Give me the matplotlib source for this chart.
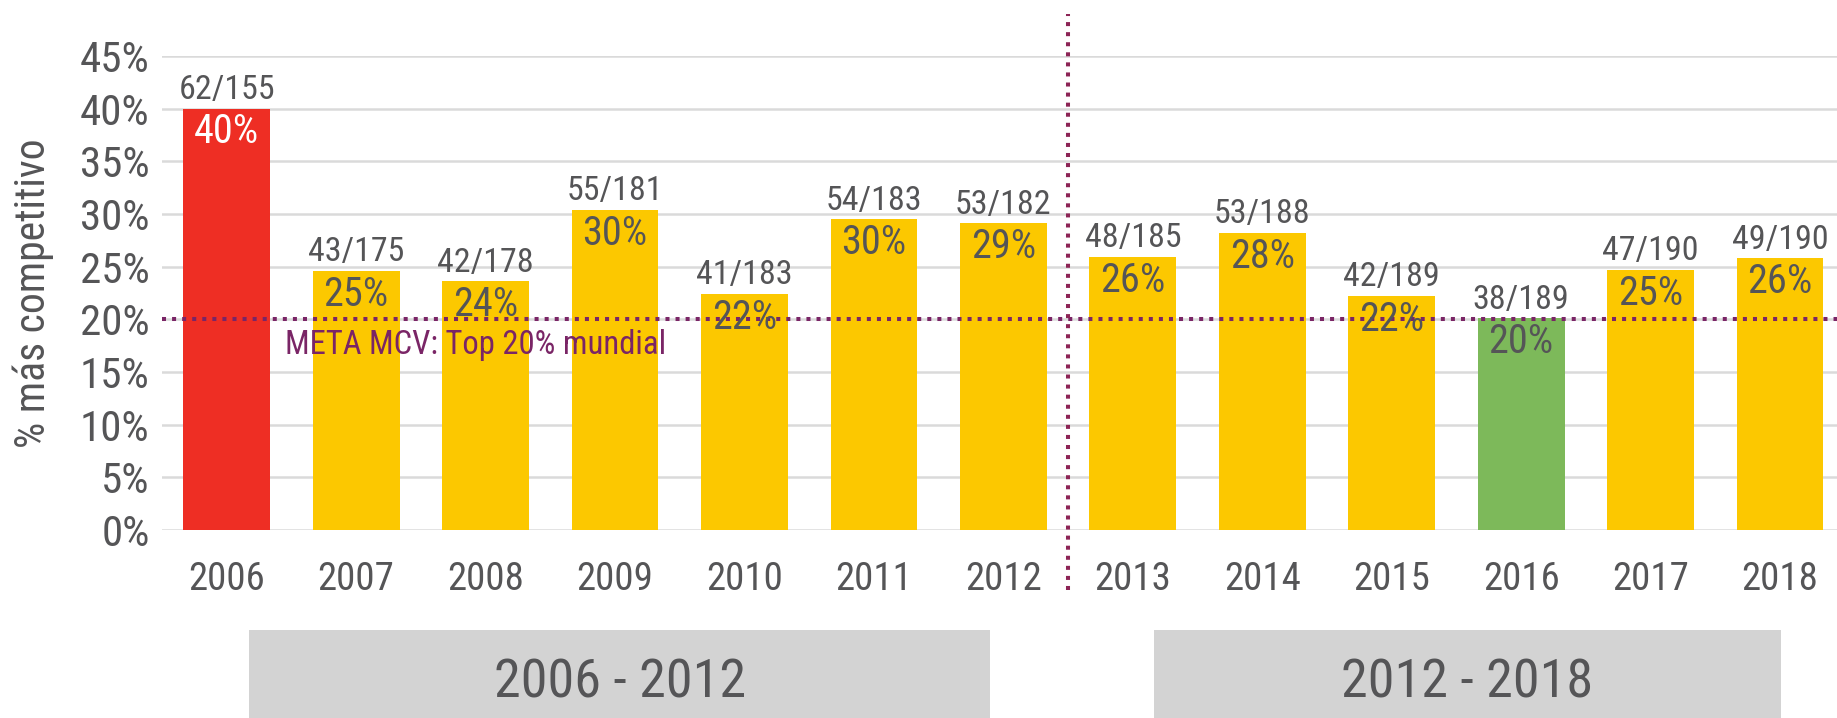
import matplotlib
matplotlib.use("Agg")
import matplotlib.pyplot as plt
from matplotlib import font_manager as fm
from matplotlib.font_manager import FontProperties
from matplotlib.patches import Rectangle
from matplotlib.transforms import blended_transform_factory

# ---------------- data ----------------
years = ["2006", "2007", "2008", "2009", "2010", "2011", "2012",
         "2013", "2014", "2015", "2016", "2017", "2018"]
values = [40.0, 24.6, 23.6, 30.4, 22.4, 29.5, 29.1, 25.9, 28.2, 22.2, 20.1, 24.7, 25.8]
fractions = ["62/155", "43/175", "42/178", "55/181", "41/183", "54/183", "53/182",
             "48/185", "53/188", "42/189", "38/189", "47/190", "49/190"]
pct_labels = ["40%", "25%", "24%", "30%", "22%", "30%", "29%",
              "26%", "28%", "22%", "20%", "25%", "26%"]
yticks = [0, 5, 10, 15, 20, 25, 30, 35, 40, 45]
goal = 20
goal_label = "META MCV: Top 20% mundial"
ylabel = "% más competitivo"
periods = ["2006 - 2012", "2012 - 2018"]

# ---------------- font ----------------
def pick_font(weights):
    entries = fm.fontManager.ttflist

    def wnum(e):
        w = e.weight
        if isinstance(w, str):
            w = fm.weight_dict.get(w, 400)
        return w

    for wt in weights:
        def ok(e):
            return e.style == "normal" and wnum(e) == wt
        prefs = ["Roboto Condensed", "Roboto", "Open Sans Condensed", "Open Sans",
                 "Noto Sans Condensed", "Noto Sans", "DejaVu Sans Condensed", "DejaVu Sans"]
        for st in ["condensed", "extra-condensed", "semi-condensed"]:
            for p in prefs:
                for e in entries:
                    if e.name == p and e.stretch == st and ok(e):
                        return e.fname
        for e in entries:
            if ("Condensed" in e.name or "Narrow" in e.name) and ok(e):
                return e.fname
    return None

FONT_PATH = pick_font([400, 500])

def fp(size):
    if FONT_PATH:
        return FontProperties(fname=FONT_PATH, size=size)
    return FontProperties(family="DejaVu Sans", size=size)

# ---------------- style ----------------
GRAY_TXT = "#555557"
RED = "#ee2e24"
YELLOW = "#fcc800"
GREEN = "#7db95a"
GOAL_COL = "#7a2566"
VLINE_COL = "#8c2455"
GRID_COL = "#dadada"
BOX_COL = "#d3d3d3"

colors = []
for i, v in enumerate(values):
    if i == 0:
        colors.append(RED)
    elif v <= goal + 0.5:
        colors.append(GREEN)
    else:
        colors.append(YELLOW)

W, H = 1837, 718
fig = plt.figure(figsize=(W / 100, H / 100), dpi=100)
ax = fig.add_axes([162 / W, 1 - 530 / H, 1675 / W, (530 - 56) / H])

x = list(range(len(years)))
ax.bar(x, values, width=0.67, color=colors, zorder=2)

ax.set_xlim(-0.5, 12.44)
ax.set_ylim(0, 45)
for s in ax.spines.values():
    s.set_visible(False)

ax.set_yticks(yticks)
ax.set_yticklabels([f"{t}%" for t in yticks], fontproperties=fp(31), color=GRAY_TXT)
ax.set_xticks(x)
ax.set_xticklabels(years, fontproperties=fp(28), color=GRAY_TXT)
ax.tick_params(axis="y", length=0, pad=9)
ax.tick_params(axis="x", length=0, pad=22)
ax.yaxis.grid(True, color=GRID_COL, linewidth=1.8)
ax.set_axisbelow(True)

# goal line
ax.axhline(goal, color=GOAL_COL, linewidth=2.9, linestyle=(0, (1, 1.5)),
           dash_capstyle="butt", zorder=3)
ax.annotate(goal_label, xy=(0.45, goal), xytext=(0, -25), textcoords="offset points",
            ha="left", va="baseline", fontproperties=fp(23.5), color=GOAL_COL, zorder=4)

# separator between periods
sep_x = (x[6] + x[7]) / 2
ax.axvline(sep_x, ymin=-0.1266, ymax=1.0886, color=VLINE_COL, linewidth=2.9,
           linestyle=(0, (1, 1.5)), dash_capstyle="butt", clip_on=False, zorder=3)

# labels
for i, v in enumerate(values):
    ax.annotate(fractions[i], xy=(x[i], v), xytext=(0, 7), textcoords="offset points",
                ha="center", va="baseline", fontproperties=fp(24.5), color=GRAY_TXT, zorder=5)
    ax.annotate(pct_labels[i], xy=(x[i], v), xytext=(0, -25), textcoords="offset points",
                ha="center", va="baseline", fontproperties=fp(29),
                color="white" if i == 0 else GRAY_TXT, zorder=5)

# y label
fig.text(33 / W, 1 - 293 / H, ylabel, rotation=90, ha="center", va="center",
         fontproperties=fp(30), color=GRAY_TXT)

# period boxes
trans = blended_transform_factory(ax.transData, fig.transFigure)
box_spans = [(0.174, 5.90), (7.16, 12.01)]
for (x0, x1), lab in zip(box_spans, periods):
    r = Rectangle((x0, 0), x1 - x0, 1 - 630 / H, transform=trans, facecolor=BOX_COL,
                  edgecolor="none", clip_on=False)
    fig.patches.append(r)
    fig.text((x0 + x1) / 2, 1 - 697 / H, lab, transform=trans, ha="center", va="baseline",
             fontproperties=fp(39), color=GRAY_TXT)

fig.savefig("out.png", dpi=100)
